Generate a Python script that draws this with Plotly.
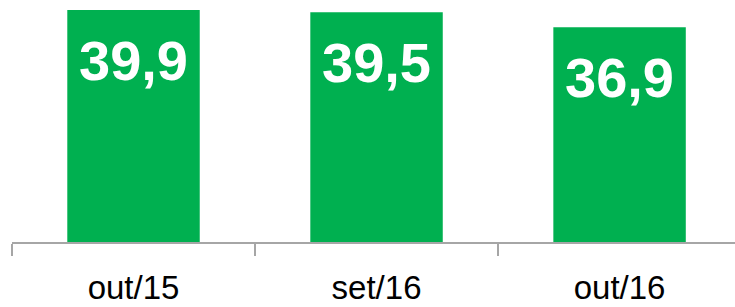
import plotly.graph_objects as go

categories = ["out/15", "set/16", "out/16"]
values = [39.9, 39.5, 36.9]
labels = ["39,9", "39,5", "36,9"]

fig = go.Figure()
fig.add_trace(go.Bar(
    x=categories, y=values,
    marker=dict(color="#00B050", line=dict(width=0)),
    width=0.545,
    hoverinfo="skip",
))

for c, v, t in zip(categories, values, labels):
    fig.add_annotation(
        x=c, y=v, text="<b>%s</b>" % t, showarrow=False,
        yanchor="top", yshift=-17,
        font=dict(family="Liberation Sans, Arial, sans-serif", size=56, color="white"),
    )

fig.update_layout(
    width=735, height=307,
    margin=dict(l=12, r=0, t=0, b=65, autoexpand=False),
    plot_bgcolor="white", paper_bgcolor="white",
    showlegend=False,
    xaxis=dict(
        range=[-0.5, 2.475],
        automargin=False,
        showline=True, linecolor="#A6A6A6", linewidth=1.5,
        ticks="outside", ticklen=12, tickcolor="#A6A6A6", tickwidth=1.5,
        tickson="boundaries",
        tickfont=dict(family="Liberation Sans, Arial, sans-serif", size=33, color="black"),
        ticklabelstandoff=16,
        showgrid=False, zeroline=False,
    ),
    yaxis=dict(range=[0, 41.6], visible=False, showgrid=False, zeroline=False, automargin=False),
)

fig.write_html(
    "out.html",
    config={"displayModeBar": False},
    post_script="document.body.style.margin='0';document.body.style.overflow='hidden';",
)
